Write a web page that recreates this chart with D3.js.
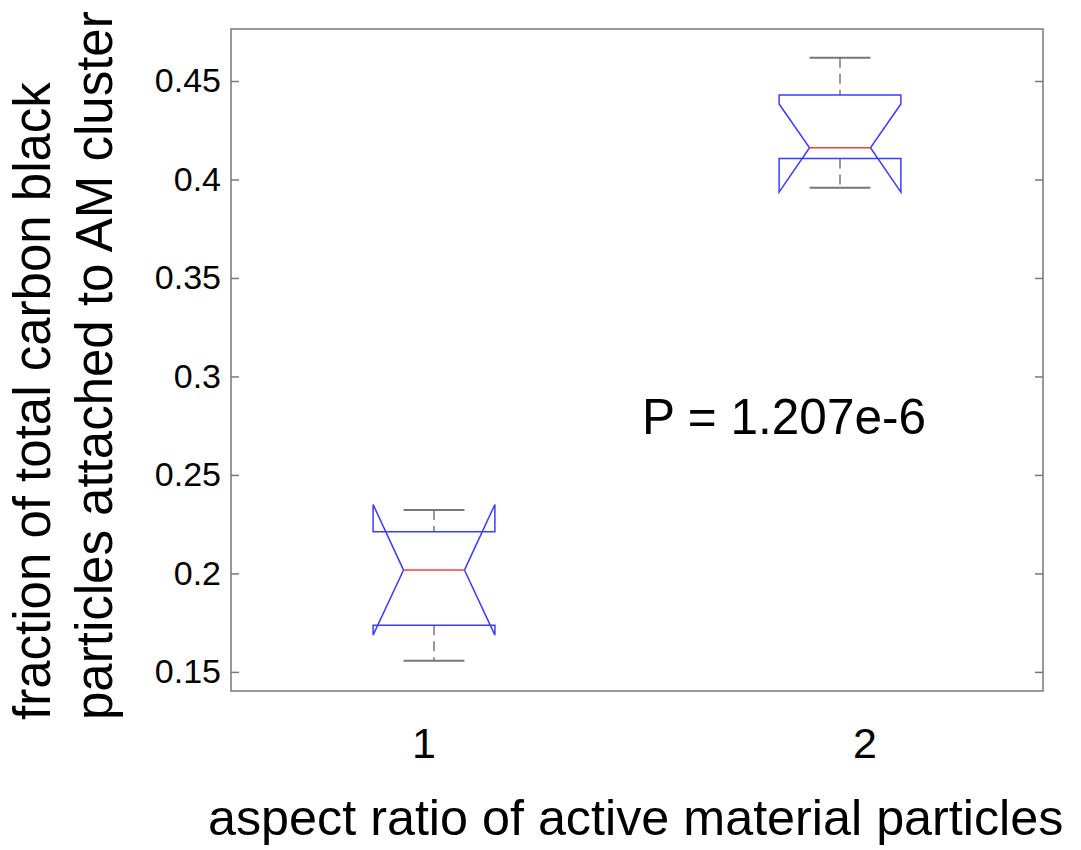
<!DOCTYPE html>
<html>
<head>
<meta charset="utf-8">
<script src="https://cdn.jsdelivr.net/npm/d3@7"></script>
<style>
  body { margin: 0; background: #fff; }
  text { font-family: "Liberation Sans", Arial, sans-serif; fill: #000; }
</style>
</head>
<body>
<svg width="1081" height="850"></svg>
<script>
var svg = d3.select('svg');

// Data
var groups = [1, 2];
var groupLabels = ['1', '2'];
var whiskerLow = [0.1556, 0.3958];
var q1 = [0.1737, 0.4107];
var medians = [0.2017, 0.4161];
var q3 = [0.2211, 0.4429];
var whiskerHigh = [0.2322, 0.4618];
var notchLow = [0.1687, 0.3936];
var notchHigh = [0.2350, 0.4383];
var yTicks = [0.15, 0.2, 0.25, 0.3, 0.35, 0.4, 0.45];
var pLabel = 'P = 1.207e-6';

var padding = {t: 29, r: 38, b: 159, l: 231};
var plotW = 1081 - padding.l - padding.r;
var plotH = 850 - padding.t - padding.b;

var chartG = svg.append('g')
    .attr('transform', 'translate(' + [padding.l, padding.t] + ')');

var xScale = d3.scaleLinear().domain([0.5, 2.5]).range([0, plotW]);
var yScale = d3.scaleLinear().domain([0.1403, 0.4764]).range([plotH, 0]);

var boxHalf = 0.15;   // in x units
var capHalf = 0.075;

var boxes = groups.map(function(g, i) {
    return {x: g, wl: whiskerLow[i], q1: q1[i], med: medians[i], q3: q3[i],
            wh: whiskerHigh[i], nl: notchLow[i], nh: notchHigh[i]};
});

// Axes frame
chartG.append('rect')
    .attr('width', plotW)
    .attr('height', plotH)
    .attr('fill', 'none')
    .attr('stroke', '#777')
    .attr('stroke-width', 1.5);

// Left and right y ticks (inward)
var yAxisL = d3.axisLeft(yScale).tickValues(yTicks).tickSize(-8).tickPadding(10)
    .tickFormat(d3.format('~g'));
var yAxisR = d3.axisRight(yScale).tickValues(yTicks).tickSize(-8).tickFormat('');

var gl = chartG.append('g').call(yAxisL);
var gr = chartG.append('g').attr('transform', 'translate(' + plotW + ',0)').call(yAxisR);
[gl, gr].forEach(function(g) {
    g.select('.domain').remove();
    g.selectAll('line').attr('stroke', '#777').attr('stroke-width', 1.5);
});
gl.selectAll('text')
    .style('font-family', '"Liberation Sans", Arial, sans-serif')
    .style('font-size', '34px')
    .attr('fill', '#000');

// Whiskers
var boxG = chartG.selectAll('.box')
    .data(boxes)
    .enter()
    .append('g')
    .attr('class', 'box');

boxG.append('line')
    .attr('x1', function(d) { return xScale(d.x); })
    .attr('x2', function(d) { return xScale(d.x); })
    .attr('y1', function(d) { return yScale(d.wh); })
    .attr('y2', function(d) { return yScale(d.q3); })
    .attr('stroke', '#777').attr('stroke-width', 1.5).attr('stroke-dasharray', '10,6');
boxG.append('line')
    .attr('x1', function(d) { return xScale(d.x); })
    .attr('x2', function(d) { return xScale(d.x); })
    .attr('y1', function(d) { return yScale(d.q1); })
    .attr('y2', function(d) { return yScale(d.wl); })
    .attr('stroke', '#777').attr('stroke-width', 1.5).attr('stroke-dasharray', '10,6');

['wh', 'wl'].forEach(function(k) {
    boxG.append('line')
        .attr('x1', function(d) { return xScale(d.x - capHalf); })
        .attr('x2', function(d) { return xScale(d.x + capHalf); })
        .attr('y1', function(d) { return yScale(d[k]); })
        .attr('y2', function(d) { return yScale(d[k]); })
        .attr('stroke', '#777').attr('stroke-width', 2);
});

// Notched box outline
boxG.append('path')
    .attr('d', function(d) {
        var l = xScale(d.x - boxHalf), r = xScale(d.x + boxHalf);
        var li = xScale(d.x - boxHalf / 2), ri = xScale(d.x + boxHalf / 2);
        var pts = [
            [l, yScale(d.q1)], [l, yScale(d.nl)], [li, yScale(d.med)],
            [l, yScale(d.nh)], [l, yScale(d.q3)], [r, yScale(d.q3)],
            [r, yScale(d.nh)], [ri, yScale(d.med)], [r, yScale(d.nl)],
            [r, yScale(d.q1)]
        ];
        return d3.line()(pts) + 'Z';
    })
    .attr('fill', 'none')
    .attr('stroke', '#3c3cff')
    .attr('stroke-width', 1.5);

// Medians
boxG.append('line')
    .attr('x1', function(d) { return xScale(d.x - boxHalf / 2); })
    .attr('x2', function(d) { return xScale(d.x + boxHalf / 2); })
    .attr('y1', function(d) { return yScale(d.med); })
    .attr('y2', function(d) { return yScale(d.med); })
    .attr('stroke', '#ff3c3c').attr('stroke-width', 1.5);

// Group labels (placed a little off the box centres as in the original)
var labelShift = [-10, 25];
chartG.selectAll('.glabel')
    .data(groups)
    .enter()
    .append('text')
    .attr('class', 'glabel')
    .attr('x', function(d, i) { return xScale(d) + labelShift[i]; })
    .attr('y', plotH + 67)
    .attr('text-anchor', 'middle')
    .style('font-size', '43px')
    .text(function(d, i) { return groupLabels[i]; });

// P value annotation
chartG.append('text')
    .attr('x', 642 - padding.l)
    .attr('y', 434 - padding.t)
    .style('font-size', '49.5px')
    .text(pLabel);

// Axis titles
svg.append('text')
    .attr('x', 208)
    .attr('y', 835)
    .style('font-size', '50.3px')
    .text('aspect ratio of active material particles');

svg.append('text')
    .attr('transform', 'translate(50,720)rotate(-90)')
    .style('font-size', '51px')
    .text('fraction of total carbon black');
svg.append('text')
    .attr('transform', 'translate(112,720)rotate(-90)')
    .style('font-size', '51px')
    .text('particles attached to AM cluster');
</script>
</body>
</html>
